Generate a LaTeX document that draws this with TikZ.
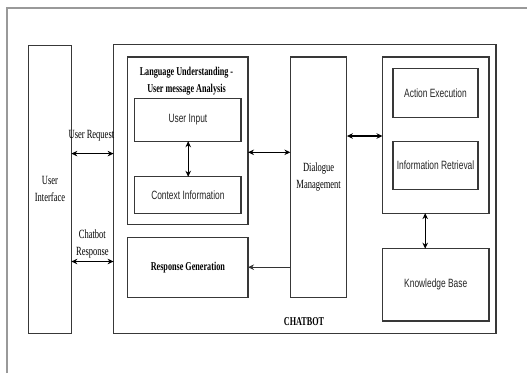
\documentclass[tikz,border=0pt]{standalone}
\usepackage{fontspec}
\setmainfont[FakeStretch=0.68]{Liberation Serif}
\newfontfamily\sansf[FakeStretch=0.7]{Liberation Sans}
\usetikzlibrary{arrows.meta}
\tikzset{
  box/.style={draw=black!78, line width=1.1pt, inner sep=0pt, outer sep=0pt, align=center},
  serifl/.style={font=\fontsize{12.5}{17}\selectfont, text=black, align=center},
  serifb/.style={font=\fontsize{12}{17}\selectfont\bfseries, text=black, align=center},
  sansl/.style={font=\sansf\fontsize{12}{15}\selectfont, text=black!85},
  link/.style={draw=black, line width=1.1pt, {Stealth[length=6pt,width=5.5pt]}-{Stealth[length=6pt,width=5.5pt]}},
  onelink/.style={draw=black!80, line width=1.1pt, -{Stealth[length=6pt,width=5.5pt]}},
  frameline/.style={draw=black!40, line width=2pt}
}
\begin{document}
\begin{tikzpicture}[x=1pt,y=-1pt]
\useasboundingbox (0,0) rectangle (527,373);
\fill[white] (0,0) rectangle (527,373);
% screenshot frame
\coordinate (ftl) at (7,8);
\coordinate (ftr) at (527,8);
\coordinate (fbl) at (7,373);
\draw[frameline] (fbl) -- (ftl) -- (ftr);

% boxes
\node[box, serifl, minimum width=42.7pt, minimum height=288pt] (UI) at (50,189.4) {User\\Interface};
\node[box, minimum width=382.4pt, minimum height=288.7pt] (CB) at (304.8,189) {};
\node[box, minimum width=120.3pt, minimum height=167.5pt] (LU) at (187.85,140.75) {};
\node[serifb] (LUt) at (186.5,80.7) {Language Understanding -\\User message Analysis};
\node[box, sansl, minimum width=106.2pt, minimum height=42.4pt] (UIn) at (187.9,120) {User Input};
\node[box, sansl, minimum width=106.2pt, minimum height=36.3pt] (CI) at (187.9,194.95) {Context Information};
\node[box, serifb, minimum width=120.3pt, minimum height=59.8pt] (RG) at (187.85,267.2) {Response Generation};
\node[box, serifl, minimum width=56.5pt, minimum height=240.1pt] (DM) at (318.65,177.05) {Dialogue\\Management};
\node[box, minimum width=106.5pt, minimum height=156.1pt] (RC) at (435.75,135.05) {};
\node[box, sansl, minimum width=85pt, minimum height=48.4pt] (AE) at (435.5,93.1) {Action Execution};
\node[box, sansl, minimum width=85pt, minimum height=48pt] (IR) at (435.5,165.2) {Information Retrieval};
\node[box, sansl, minimum width=106.5pt, minimum height=72.3pt] (KB) at (435.75,284.85) {Knowledge Base};
\node[serifb] (CBt) at (304,322) {CHATBOT};

% connectors
\draw[link] (UI.east |- 0,153.6) -- (CB.west |- 0,153.6);
\node[serifl] (URl) at (91.4,136) {User Request};
\draw[link] (UI.east |- 0,261.5) -- (CB.west |- 0,261.5);
\node[serifl] (CRl) at (92.4,243.5) {Chatbot\\Response};
\draw[link] (UIn.south -| 188.2,0) -- (CI.north -| 188.2,0);
\draw[link] (LU.east |- 0,152.3) -- (DM.west |- 0,152.3);
\draw[link] (DM.east |- 0,136) -- (RC.west |- 0,136);
\draw[link] (RC.south -| 425.2,0) -- (KB.north -| 425.2,0);
\draw[onelink] (DM.west |- 0,267.2) -- (RG.east |- 0,267.2);
\end{tikzpicture}
\end{document}
